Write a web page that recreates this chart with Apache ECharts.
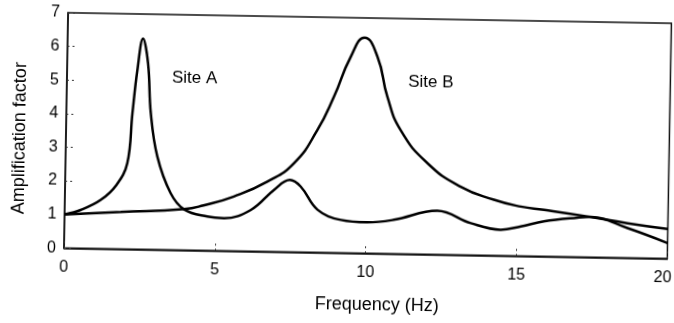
<!DOCTYPE html>
<html><head><meta charset="utf-8">
<script src="https://cdn.jsdelivr.net/npm/echarts@6/dist/echarts.min.js"></script>
<style>
html,body{margin:0;padding:0;background:#fff;overflow:hidden}
#c{width:674px;height:323px;transform-origin:367.7px 135.6px;transform:rotate(1deg)}
</style>
</head><body><div id="c"></div>
<script>
// Site A response (frequency in Hz, amplification factor)
const freqA = [0, 0.53, 1.19, 1.7, 2.05, 2.19, 2.33, 2.5, 2.68, 2.8, 3.04, 3.5, 3.96, 4.73, 5.29, 6.17, 6.93, 7.45, 7.81, 8.38, 9.16, 10.04, 10.92, 12.35, 13.47, 14.46, 15.13, 15.89, 17.0, 17.44, 18.66, 20];
const ampA  = [1.0, 1.14, 1.45, 1.9, 2.56, 4.04, 5.33, 6.27, 5.53, 4.05, 2.77, 1.69, 1.21, 1.01, 0.97, 1.23, 1.84, 2.14, 1.95, 1.27, 0.98, 0.92, 1.01, 1.3, 0.95, 0.77, 0.88, 1.04, 1.17, 1.2, 0.885, 0.46];
// Site B response
const freqB = [0, 1.86, 3.96, 4.6, 5.6, 6.7, 7.57, 8.33, 8.86, 9.39, 9.84, 10.28, 10.63, 11.09, 12.0, 13.11, 14.22, 15.11, 15.89, 17.33, 18.66, 20];
const ampB  = [1.0, 1.1, 1.22, 1.34, 1.62, 2.08, 2.64, 3.64, 4.64, 5.83, 6.41, 5.85, 4.67, 3.68, 2.71, 2.03, 1.66, 1.47, 1.385, 1.21, 1.03, 0.88];
// Axis settings
const xMin = 0, xMax = 20, xStep = 5;
const yMin = 0, yMax = 7, yStep = 1;
// Annotation labels (data coordinates)
const siteLabels = [
  {name: 'Site A', at: [4.23, 5.12]},
  {name: 'Site B', at: [12.06, 5.11]}
];

const FONT = '"Liberation Sans", Arial, Helvetica, sans-serif';
const zip = (xs, ys) => xs.map((x, i) => [x, ys[i]]);

const chart = echarts.init(document.getElementById('c'));
const tickStyle = {show: true, inside: true, length: 9, lineStyle: {color: '#333', width: 1, type: [2, 3]}};

function labelMark(lbl) {
  return {
    symbol: 'circle', symbolSize: 0, silent: true,
    data: [{coord: lbl.at, symbolSize: 0, label: {show: true, formatter: lbl.name, position: 'inside', color: '#000', fontSize: 17, fontFamily: FONT}}]
  };
}

chart.setOption({
  animation: false,
  backgroundColor: 'transparent',
  grid: {left: 66, top: 18, right: 4.6, bottom: 69.7, show: true, borderColor: '#111', borderWidth: 1.5, backgroundColor: 'transparent', containLabel: false, outerBoundsMode: 'none'},
  xAxis: {
    type: 'value', min: xMin, max: xMax, interval: xStep,
    name: 'Frequency (Hz)', nameLocation: 'middle', nameGap: 43,
    nameTextStyle: {color: '#000', fontSize: 18, fontFamily: FONT, padding: [0, 0, 0, 24]},
    axisLine: {show: true, onZero: false, lineStyle: {color: '#111', width: 1.5}},
    axisTick: tickStyle,
    axisLabel: {
      color: '#000', fontSize: 16, fontFamily: FONT, margin: 11,
      formatter: v => v === xMax ? '{last|' + v + '}' : String(v),
      rich: {last: {color: '#000', fontSize: 16, fontFamily: FONT, padding: [0, 9, 0, 0]}}
    },
    splitLine: {show: false}
  },
  yAxis: {
    type: 'value', min: yMin, max: yMax, interval: yStep,
    name: 'Amplification factor', nameLocation: 'middle', nameGap: 37, nameRotate: 90,
    nameTextStyle: {color: '#000', fontSize: 18, fontFamily: FONT, padding: [0, 17, 0, 0]},
    axisLine: {show: true, onZero: false, lineStyle: {color: '#111', width: 1.5}},
    axisTick: tickStyle,
    axisLabel: {color: '#000', fontSize: 16, fontFamily: FONT, margin: 8},
    splitLine: {show: false}
  },
  series: [
    {name: 'Site A', type: 'line', data: zip(freqA, ampA), showSymbol: false, smooth: 0.4,
     lineStyle: {color: '#000', width: 2.5}, itemStyle: {color: '#000'}, markPoint: labelMark(siteLabels[0])},
    {name: 'Site B', type: 'line', data: zip(freqB, ampB), showSymbol: false, smooth: 0.5,
     lineStyle: {color: '#000', width: 2.5}, itemStyle: {color: '#000'}, markPoint: labelMark(siteLabels[1])}
  ]
});
</script>
</body></html>
